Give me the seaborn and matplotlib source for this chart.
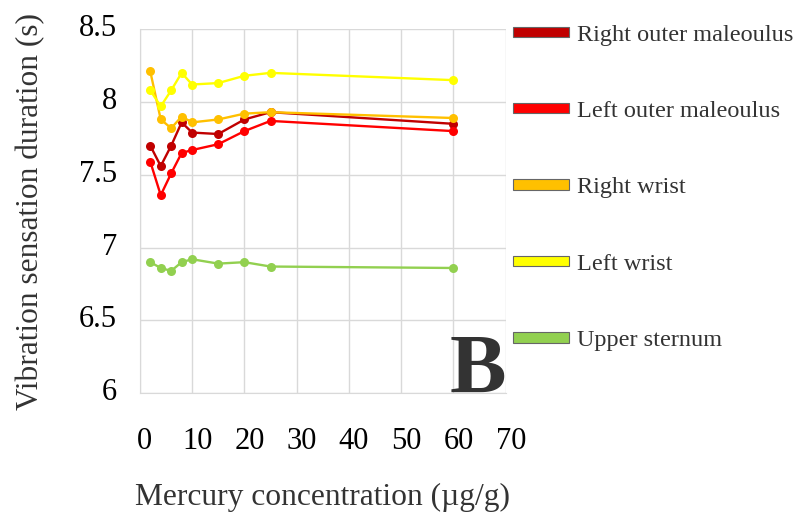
import pandas as pd
import matplotlib.pyplot as plt
import matplotlib.transforms as mtransforms
import seaborn as sns
from matplotlib.patches import Patch

# data
mercury = [2, 4, 6, 8, 10, 15, 20, 25, 60]
right_outer_maleoulus = [7.70, 7.56, 7.70, 7.86, 7.79, 7.78, 7.88, 7.93, 7.85]
left_outer_maleoulus = [7.59, 7.36, 7.51, 7.65, 7.67, 7.71, 7.80, 7.87, 7.80]
right_wrist = [8.21, 7.88, 7.82, 7.90, 7.86, 7.88, 7.92, 7.93, 7.89]
left_wrist = [8.08, 7.97, 8.08, 8.20, 8.12, 8.13, 8.18, 8.20, 8.15]
upper_sternum = [6.90, 6.86, 6.84, 6.90, 6.92, 6.89, 6.90, 6.87, 6.86]

sites = ['Right outer maleoulus', 'Left outer maleoulus', 'Right wrist',
         'Left wrist', 'Upper sternum']
colors = ['#C00000', '#FF0000', '#FFC000', '#FFFF00', '#92D050']

series = [right_outer_maleoulus, left_outer_maleoulus, right_wrist,
          left_wrist, upper_sternum]
df = pd.concat([pd.DataFrame({'x': mercury, 'y': vals, 'site': name})
                for name, vals in zip(sites, series)])

sns.set_style('white')
plt.rcParams['font.family'] = ['Liberation Serif', 'DejaVu Serif']

fig = plt.figure(figsize=(7.99, 5.12), dpi=100)
ax = fig.add_axes([0.175, 0.232, 0.458, 0.711])

sns.lineplot(data=df, x='x', y='y', hue='site', palette=colors,
             marker='o', markersize=6.5, markeredgewidth=0, linewidth=1.7,
             sort=False, legend=False, ax=ax)

ax.set_xlim(0, 70)
ax.set_ylim(6, 8.5)
ax.set_xticks(range(0, 71, 10))
ax.set_yticks([6, 6.5, 7, 7.5, 8, 8.5])
ax.set_yticklabels(['6', '6.5', '7', '7.5', '8', '8.5'])
ax.grid(True, color='#D9D9D9', linewidth=1)
for s in ax.spines.values():
    s.set_visible(False)
ax.spines['left'].set_visible(True)
ax.spines['bottom'].set_visible(True)
ax.spines['left'].set_color('#D9D9D9')
ax.spines['bottom'].set_color('#D9D9D9')
ax.tick_params(axis='both', length=0, labelsize=22, colors='black')
ax.tick_params(axis='x', pad=24)
ax.tick_params(axis='y', pad=16.5)

# small shifts like the original rendering
dx = mtransforms.ScaledTranslation(5 / 100, 0, fig.dpi_scale_trans)
for lab in ax.get_xticklabels():
    lab.set_transform(lab.get_transform() + dx)
dy = mtransforms.ScaledTranslation(0, 4 / 100, fig.dpi_scale_trans)
for lab in ax.get_yticklabels():
    lab.set_transform(lab.get_transform() + dy)

ax.set_xlabel('Mercury concentration (\u00b5g/g)', fontsize=22.7, color='#333333',
              labelpad=20)
ax.set_ylabel('Vibration sensation duration (s)', fontsize=22.6, color='#333333',
              labelpad=24)

ax.text(1.0, 0.0, 'B', transform=ax.transAxes, ha='right', va='baseline',
        fontsize=61, fontweight='bold', color='#333333')

handles = [Patch(facecolor=c, edgecolor='#666666', linewidth=0.8, label=n)
           for c, n in zip(colors, sites)]
leg = fig.legend(handles=handles, loc='upper left', bbox_to_anchor=(0.630, 0.971),
                 frameon=False, fontsize=17.5, handlelength=2.3, handleheight=0.28,
                 handletextpad=0.33, labelspacing=2.28, borderaxespad=0)
for t in leg.get_texts():
    t.set_color('#333333')

fig.savefig('out.png', dpi=100)
